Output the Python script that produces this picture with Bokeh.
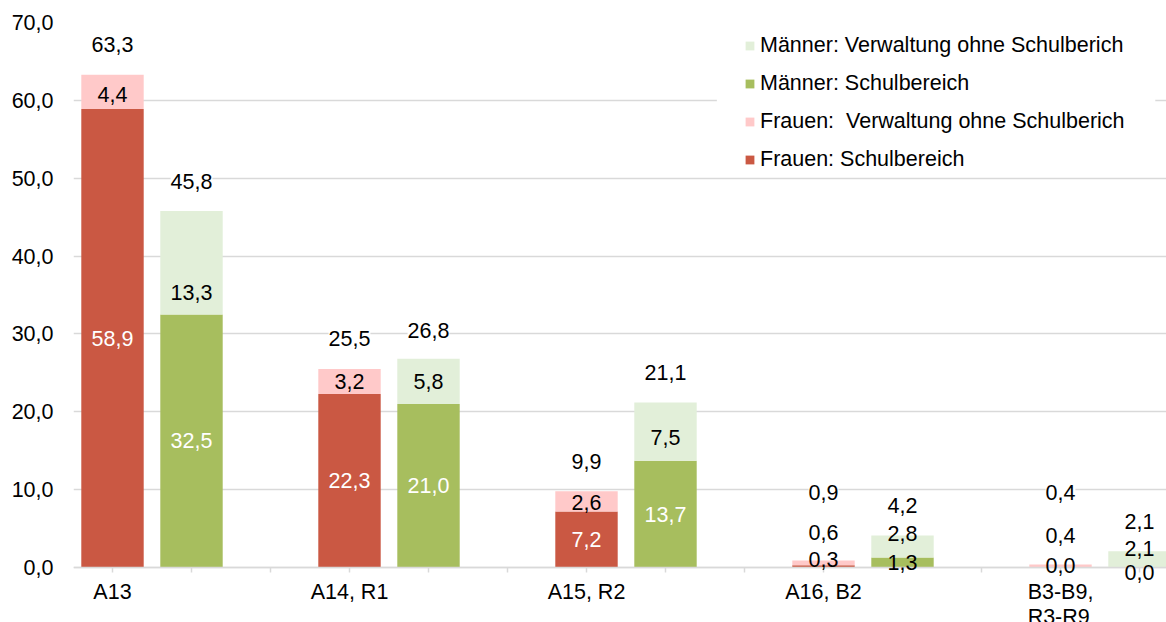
from bokeh.plotting import figure
from bokeh.models import (ColumnDataSource, LabelSet, Range1d, FixedTicker,
                          Legend, LegendItem, BoxAnnotation, Span)
from bokeh.core.properties import value
from bokeh.embed import file_html
from bokeh.resources import INLINE

# ---------------- data ----------------
categories = ["A13", "A14, R1", "A15, R2", "A16, B2", "B3-B9,\nR3-R9"]
frauen_schule = [58.9, 22.3, 7.2, 0.3, 0.0]
frauen_verwaltung = [4.4, 3.2, 2.6, 0.6, 0.4]
frauen_gesamt = [63.3, 25.5, 9.9, 0.9, 0.4]
maenner_schule = [32.5, 21.0, 13.7, 1.3, 0.0]
maenner_verwaltung = [13.3, 5.8, 7.5, 2.8, 2.1]
maenner_gesamt = [45.8, 26.8, 21.1, 4.2, 2.1]
y_ticks = [0, 10, 20, 30, 40, 50, 60, 70]
y_tick_labels = ["0,0", "10,0", "20,0", "30,0", "40,0", "50,0", "60,0", "70,0"]
legend_labels = ["Männer: Verwaltung ohne Schulberich",
                 "Männer: Schulbereich",
                 "Frauen:  Verwaltung ohne Schulberich",
                 "Frauen: Schulbereich"]

# ---------------- styles / layout ----------------
C_FS = "#CA5843"
C_FV = "#FFC9C9"
C_MS = "#A7BE5E"
C_MV = "#E2EFD9"
GRID = "#D9D9D9"
FONT_NAME = "Liberation Sans"
FONT_SIZE = "21.5px"
FONT = value(FONT_NAME)
FS = value(FONT_SIZE)
BAR_W = 0.79
W, H = 1166, 622
LEFT, TOP = 73, 22
PLOT_BOTTOM_PX = 567          # pixel row of value 0
Y_MAX = 70
PX_PER_UNIT = (PLOT_BOTTOM_PX - TOP) / Y_MAX
Y_MIN = -(H - PLOT_BOTTOM_PX) / PX_PER_UNIT
SLOT_PX = 79
X_MIN = -(112 - LEFT) / SLOT_PX
X_MAX = X_MIN + (W - LEFT) / SLOT_PX
TICK_PX = 5
TOTAL_GAP = 30  # px above bar top
# manual label nudges in px (up positive)
nudge_fs = [0, 0, 0, 7, 2]
nudge_ms = [0, 0, 0, 0, -5]
nudge_fv = [-3, 0, -1, 30, 30]
nudge_mv = [-30, 0, -6, 13, 11]
nudge_ft = [0, 0, 0, 38, 42]
nudge_mt = [-1, -2, 0, 0, 0]

def fmt(v):
    return f"{v:.1f}".replace(".", ",")

n = len(categories)
xf = [3 * i for i in range(n)]
xm = [3 * i + 1 for i in range(n)]
slots = list(range(15))

p = figure(width=W, height=H, output_backend="svg", toolbar_location=None,
           x_range=Range1d(X_MIN, X_MAX), y_range=Range1d(Y_MIN, Y_MAX),
           min_border_left=LEFT, min_border_right=0, min_border_top=TOP,
           min_border_bottom=0)
p.outline_line_color = None
p.background_fill_color = "white"
p.border_fill_color = "white"
p.xaxis.visible = False
p.xgrid.visible = False

p.ygrid.grid_line_color = GRID
p.ygrid.grid_line_width = 1.5
p.ygrid.ticker = FixedTicker(ticks=y_ticks)
p.yaxis.ticker = FixedTicker(ticks=y_ticks)
p.yaxis.major_label_overrides = {t: l for t, l in zip(y_ticks, y_tick_labels)}
p.yaxis.axis_line_color = None
p.yaxis.major_tick_line_color = None
p.yaxis.minor_tick_line_color = None
p.yaxis.major_label_standoff = 14
p.yaxis.major_label_text_font = FONT_NAME
p.yaxis.major_label_text_font_size = FONT_SIZE
p.yaxis.major_label_text_color = "black"

# category axis: line at 0 and tick marks below it
p.segment(x0=slots, y0=[0] * len(slots), x1=slots,
          y1=[-TICK_PX / PX_PER_UNIT] * len(slots), line_color=GRID, line_width=1.5)
p.add_layout(Span(location=0, dimension="width", line_color=GRID, line_width=1.5))

# bars
fs_top = frauen_schule
fv_top = [a + b for a, b in zip(frauen_schule, frauen_verwaltung)]
ms_top = maenner_schule
mv_top = [a + b for a, b in zip(maenner_schule, maenner_verwaltung)]

r_fs = p.vbar(x=xf, bottom=0, top=fs_top, width=BAR_W, fill_color=C_FS, line_color=None)
r_fv = p.vbar(x=xf, bottom=fs_top, top=fv_top, width=BAR_W, fill_color=C_FV, line_color=None)
r_ms = p.vbar(x=xm, bottom=0, top=ms_top, width=BAR_W, fill_color=C_MS, line_color=None)
r_mv = p.vbar(x=xm, bottom=ms_top, top=mv_top, width=BAR_W, fill_color=C_MV, line_color=None)

# white area behind legend
p.add_layout(BoxAnnotation(left=7.65, right=13.2, bottom=50.7, top=69.0,
                           fill_color="white", fill_alpha=1, line_color=None))

# segment labels
def seg_color(v):
    return "white" if v >= 5 else "black"

seg = dict(x=[], y=[], text=[], dy=[], color=[])
for i in range(n):
    seg["x"] += [xf[i], xm[i], xf[i], xm[i]]
    seg["y"] += [frauen_schule[i] / 2, maenner_schule[i] / 2,
                 frauen_schule[i] + frauen_verwaltung[i] / 2,
                 maenner_schule[i] + maenner_verwaltung[i] / 2]
    seg["text"] += [fmt(frauen_schule[i]), fmt(maenner_schule[i]),
                    fmt(frauen_verwaltung[i]), fmt(maenner_verwaltung[i])]
    seg["dy"] += [nudge_fs[i], nudge_ms[i], nudge_fv[i], nudge_mv[i]]
    seg["color"] += [seg_color(frauen_schule[i]), seg_color(maenner_schule[i]),
                     "black", "black"]
seg_src = ColumnDataSource(seg)
p.add_layout(LabelSet(x="x", y="y", text="text", y_offset="dy", source=seg_src,
                      text_color="color", text_font=FONT, text_font_size=FS,
                      text_align="center", text_baseline="middle"))

# total labels
def total_labels(xs, vals, tops, nudges, pad):
    src = ColumnDataSource(dict(x=xs, y=tops, text=[fmt(v) for v in vals],
                                dy=[TOTAL_GAP + d for d in nudges]))
    kw = dict(x="x", y="y", text="text", y_offset="dy", source=src,
              text_color="black", text_font=FONT, text_font_size=FS,
              text_align="center", text_baseline="middle",
              background_fill_color="white", background_fill_alpha=1)
    try:
        return LabelSet(padding=pad, **kw)
    except Exception:
        return LabelSet(**kw)

p.add_layout(total_labels(xf, frauen_gesamt, fv_top, nudge_ft, 8))
p.add_layout(total_labels(xm, maenner_gesamt, mv_top, nudge_mt, 1))

# category labels
cat_src = ColumnDataSource(dict(x=xf, y=[0] * n, text=categories))
p.add_layout(LabelSet(x="x", y="y", text="text", y_offset=-12, source=cat_src,
                      text_color="black", text_font=FONT, text_font_size=FS,
                      text_line_height=1.08,
                      text_align="center", text_baseline="top"))

# legend
items = [LegendItem(label=legend_labels[0], renderers=[r_mv]),
         LegendItem(label=legend_labels[1], renderers=[r_ms]),
         LegendItem(label=legend_labels[2], renderers=[r_fv]),
         LegendItem(label=legend_labels[3], renderers=[r_fs])]
legend = Legend(items=items, location=(671, 450), margin=0, padding=4,
                spacing=13, label_height=24, glyph_width=11, glyph_height=11,
                label_standoff=5, label_text_font=FONT_NAME,
                label_text_font_size=FONT_SIZE,
                label_text_color="black", border_line_color=None,
                background_fill_alpha=0)
p.add_layout(legend)

open("out.html", "w").write(file_html(p, INLINE))
